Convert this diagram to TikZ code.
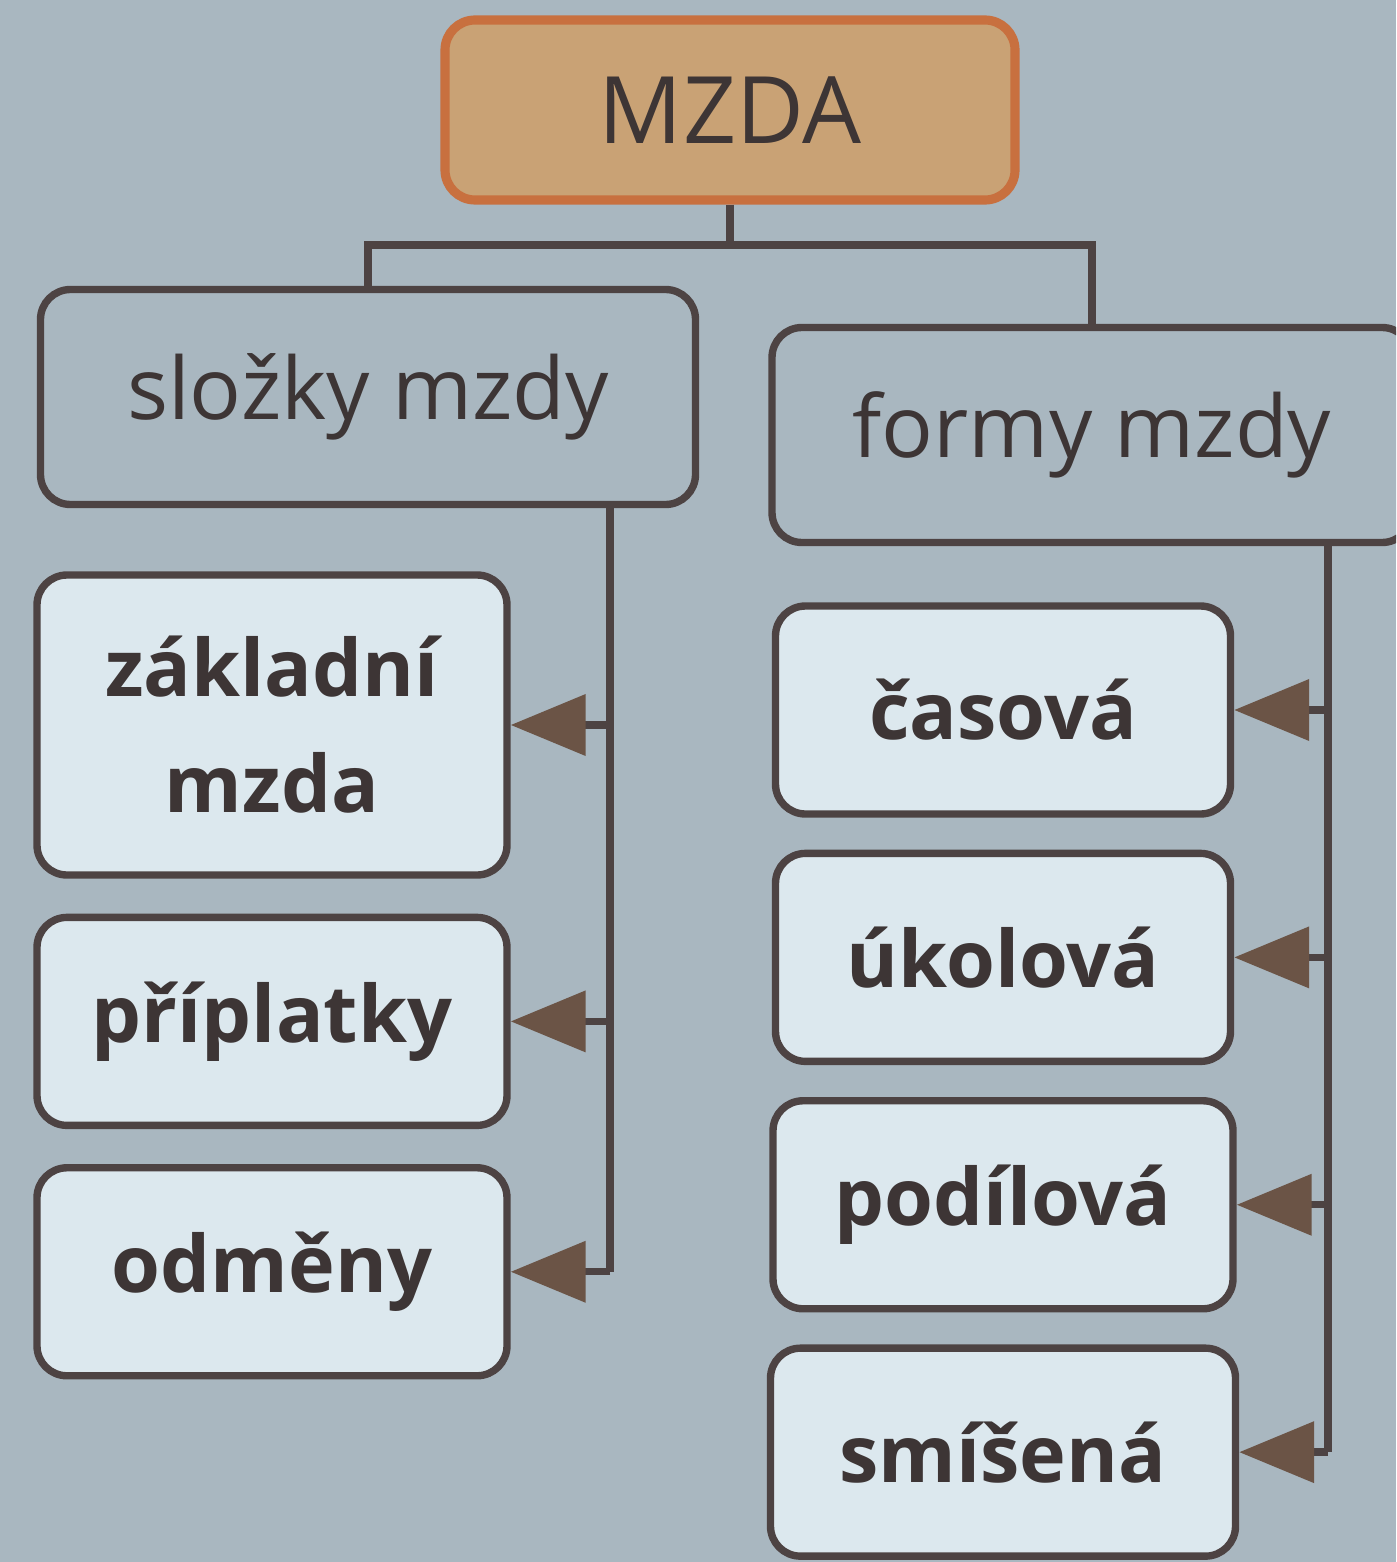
\documentclass[tikz,border=0pt]{standalone}
\usepackage{fontspec}
\setmainfont{Open Sans}
\usetikzlibrary{positioning, arrows.meta}
\definecolor{slidebg}{HTML}{A9B7C0}
\definecolor{leafblue}{HTML}{DCE8EE}
\definecolor{mzdafill}{HTML}{C9A275}
\definecolor{mzdaborder}{HTML}{C8703F}
\definecolor{linegray}{HTML}{4D4343}
\definecolor{arrowbrown}{HTML}{6B5446}
\definecolor{textgray}{HTML}{3D3535}

\begin{document}
\begin{tikzpicture}[
      node distance=0.32cm,
      box/.style={draw=linegray, line width=2.1pt, rounded corners=0.3cm, text=textgray, align=center},
      toplevel/.style={box, fill=slidebg, minimum height=2.15cm, font=\fontsize{24.5}{30}\selectfont},
      leaf/.style={box, fill=leafblue, minimum height=2.08cm, font=\bfseries\fontsize{22.5}{33}\selectfont},
      conn/.style={linegray, line width=2.1pt},
      arr/.style={conn, -{Triangle[length=0.75cm, width=0.6cm, color=arrowbrown]}}
    ]
    \useasboundingbox (0,0) rectangle (13.96,-15.62);
    \fill[slidebg] (0,0) rectangle (13.96,-15.62);
    \clip (0,0) rectangle (13.96,-15.62);

    \node (mzda) [box, fill=mzdafill, draw=mzdaborder, line width=2.6pt, minimum width=5.7cm, minimum height=1.8cm, font=\fontsize{26.5}{32}\selectfont] at (7.30,-1.10) {MZDA};
    \node (slozky) [toplevel, minimum width=6.55cm] at (3.68,-3.97) {složky mzdy};
    \node (formy) [toplevel, minimum width=6.4cm] at (10.92,-4.35) {formy mzdy};

    \node (zakladni) [leaf, minimum width=4.7cm, minimum height=3.0cm] at (2.72,-7.25) {základní\\mzda};
    \node (priplatky) [leaf, minimum width=4.7cm, below=0.35cm of zakladni] {příplatky};
    \node (odmeny) [leaf, minimum width=4.7cm, below=0.35cm of priplatky] {odměny};

    \node (casova) [leaf, minimum width=4.55cm] at (10.03,-7.10) {časová};
    \node (ukolova) [leaf, minimum width=4.55cm, below=of casova] {úkolová};
    \node (podilova) [leaf, minimum width=4.6cm, below=of ukolova] {podílová};
    \node (smisena) [leaf, minimum width=4.65cm, below=of podilova] {smíšená};

    \coordinate (split) at (7.30,-2.45);
    \coordinate (lline) at (6.10,-5.0);
    \coordinate (rline) at (13.28,-5.4);

    \draw[conn] (mzda.south) -- (split);
    \draw[conn] (slozky.north) |- (split) -| (formy.north);

    \draw[conn] (slozky.south -| lline) -- (lline |- odmeny.east);
    \draw[arr] (lline |- zakladni.east) -- (zakladni.east);
    \draw[arr] (lline |- priplatky.east) -- (priplatky.east);
    \draw[arr] (lline |- odmeny.east) -- (odmeny.east);

    \draw[conn] (formy.south -| rline) -- (rline |- smisena.east);
    \draw[arr] (rline |- casova.east) -- (casova.east);
    \draw[arr] (rline |- ukolova.east) -- (ukolova.east);
    \draw[arr] (rline |- podilova.east) -- (podilova.east);
    \draw[arr] (rline |- smisena.east) -- (smisena.east);
  \end{tikzpicture}
\end{document}
